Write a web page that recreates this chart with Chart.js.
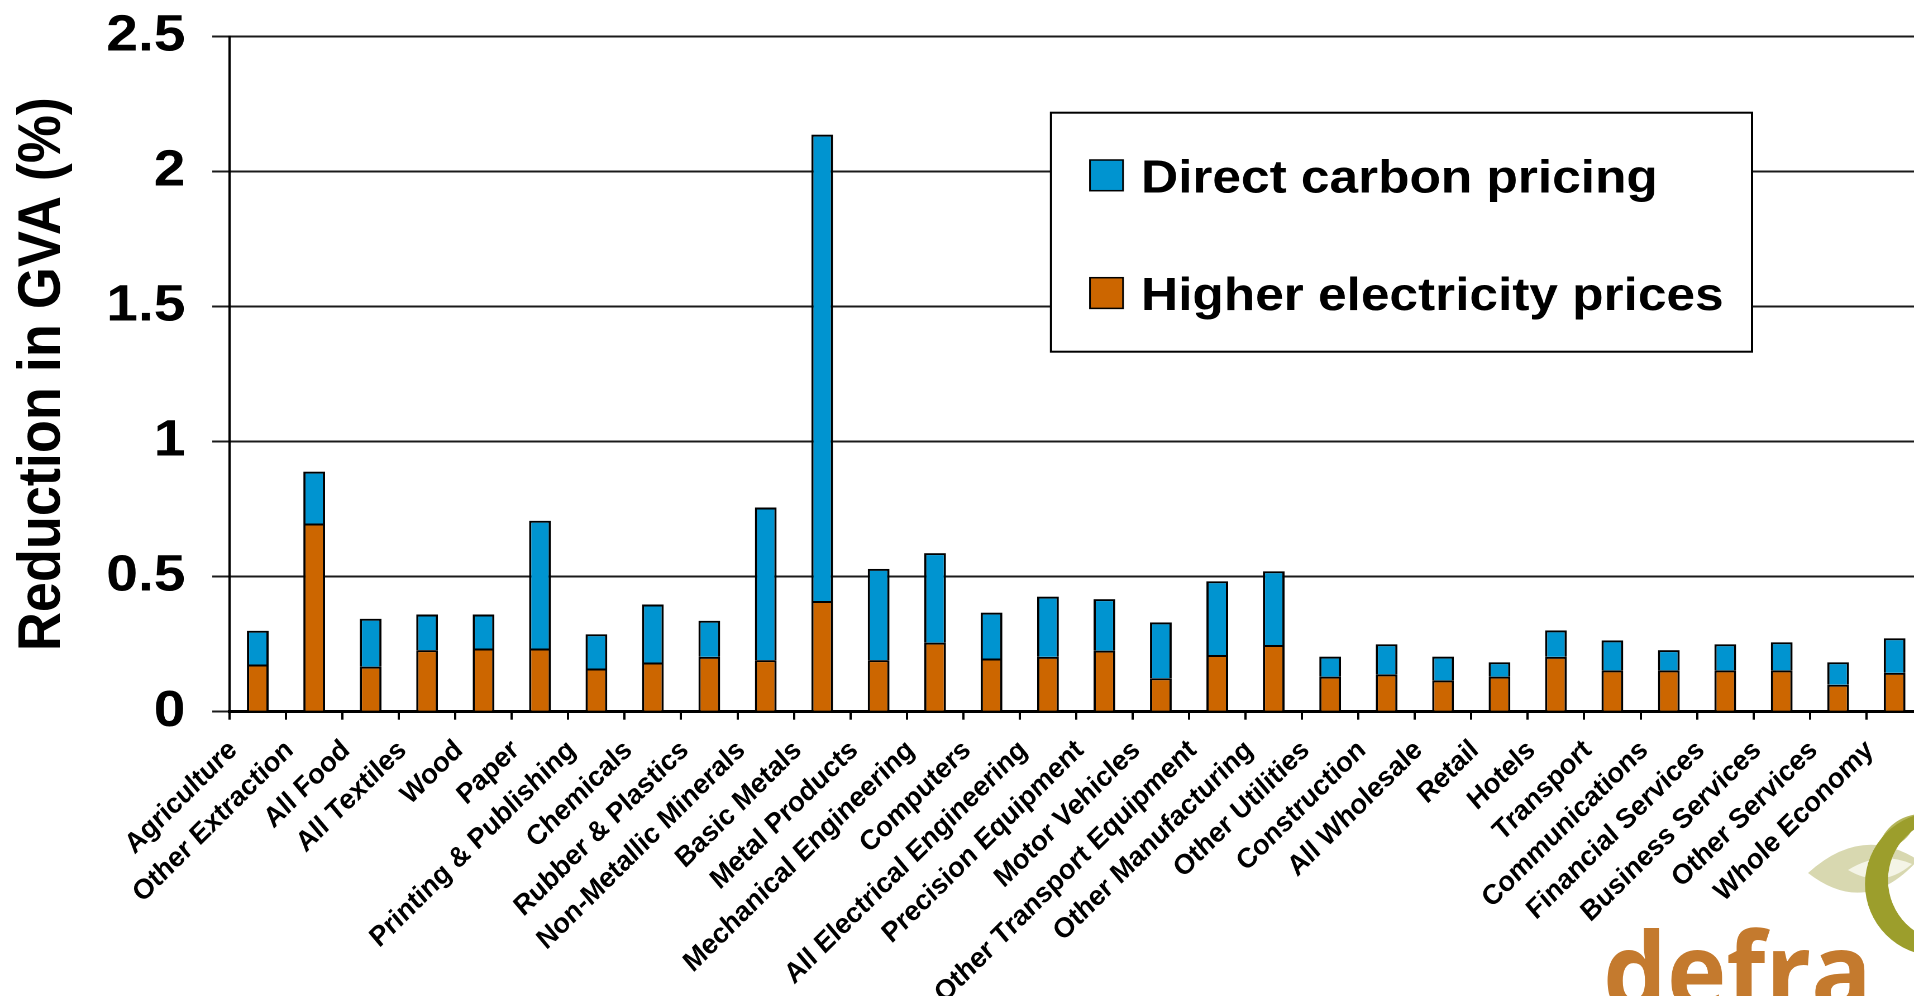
<!DOCTYPE html>
<html>
<head>
<meta charset="utf-8">
<title>Reduction in GVA by sector</title>
<script src="https://cdn.jsdelivr.net/npm/chart.js@4.4.1/dist/chart.umd.min.js"></script>
<style>
  html, body { margin: 0; padding: 0; background: #fff; overflow: hidden; width: 1914px; height: 996px; }
  /* the whole slide is drawn slightly widened, like the original export */
  #wrap { position: absolute; left: 0; top: 0; width: 1740px; height: 996px;
          transform: scaleX(1.117); transform-origin: 0 0; }
  canvas { display: block; }
</style>
</head>
<body>
<div id="wrap"><canvas id="gva" width="1740" height="996"></canvas></div>
<script>
// Sectors along the x axis
const categories = [
  'Agriculture', 'Other Extraction', 'All Food', 'All Textiles', 'Wood', 'Paper',
  'Printing & Publishing', 'Chemicals', 'Rubber & Plastics', 'Non-Metallic Minerals',
  'Basic Metals', 'Metal Products', 'Mechanical Engineering', 'Computers',
  'All Electrical Engineering', 'Precision Equipment', 'Motor Vehicles',
  'Other Transport Equipment', 'Other Manufacturing', 'Other Utilities', 'Construction',
  'All Wholesale', 'Retail', 'Hotels', 'Transport', 'Communications',
  'Financial Services', 'Business Services', 'Other Services', 'Whole Economy'
];

// Reduction in GVA (%) caused by higher electricity prices (lower segment)
const electricityPrices = [
  0.175, 0.697, 0.167, 0.228, 0.234, 0.234, 0.160, 0.182, 0.203, 0.191,
  0.410, 0.191, 0.256, 0.197, 0.203, 0.226, 0.124, 0.210, 0.247, 0.130,
  0.138, 0.116, 0.130, 0.203, 0.153, 0.153, 0.153, 0.153, 0.100, 0.144
];

// Reduction in GVA (%) caused by direct carbon pricing (upper segment)
const directCarbonPricing = [
  0.125, 0.192, 0.177, 0.132, 0.126, 0.473, 0.127, 0.215, 0.134, 0.565,
  1.727, 0.338, 0.331, 0.170, 0.223, 0.191, 0.207, 0.273, 0.273, 0.074,
  0.112, 0.088, 0.053, 0.098, 0.111, 0.075, 0.097, 0.104, 0.083, 0.128
];

const seriesNames = ['Higher electricity prices', 'Direct carbon pricing'];
const seriesColors = ['#CC6600', '#0094D0'];
const yTickLabels = ['0', '0.5', '1', '1.5', '2', '2.5'];
const yAxisTitle = 'Reduction in GVA (%)';

const STRETCH = 1.117;
const FONT = "'Liberation Sans', Arial, Helvetica, sans-serif";

// Boxed legend inside the plot, top series listed first, plus the corner logo
const boxedLegend = {
  id: 'boxedLegend',
  afterDraw(chart) {
    const ctx = chart.ctx;
    const box = { left: 940.9, top: 112.7, right: 1568.5, bottom: 351.7 };
    ctx.save();
    ctx.fillStyle = '#fff';
    ctx.fillRect(box.left, box.top, box.right - box.left, box.bottom - box.top);
    ctx.lineWidth = 2;
    ctx.strokeStyle = '#000';
    ctx.strokeRect(box.left, box.top, box.right - box.left, box.bottom - box.top);

    const items = chart.data.datasets.slice().reverse();
    const rows = [{ swatchTop: 160, baseline: 192.3 }, { swatchTop: 277.7, baseline: 310 }];
    items.forEach((ds, i) => {
      const r = rows[i];
      ctx.fillStyle = ds.backgroundColor;
      ctx.fillRect(975.8, r.swatchTop, 29.6, 30.7);
      ctx.lineWidth = 1.5;
      ctx.strokeStyle = '#000';
      ctx.strokeRect(975.8, r.swatchTop, 29.6, 30.7);
      ctx.fillStyle = '#000';
      ctx.font = 'bold 46px ' + FONT;
      ctx.textAlign = 'left';
      ctx.textBaseline = 'alphabetic';
      ctx.fillText(ds.label, 1021.5, r.baseline);
    });
    ctx.restore();

    // departmental logo in the lower right corner (drawn in page pixels)
    ctx.save();
    ctx.scale(1 / STRETCH, 1);
    // pale leaf
    ctx.fillStyle = '#D8D8B0';
    ctx.beginPath();
    ctx.moveTo(1808, 873);
    ctx.quadraticCurveTo(1862, 824, 1918, 860);
    ctx.quadraticCurveTo(1866, 918, 1808, 873);
    ctx.fill();
    ctx.fillStyle = '#F4F4E6';
    ctx.beginPath();
    ctx.moveTo(1848, 870);
    ctx.quadraticCurveTo(1880, 850, 1912, 864);
    ctx.quadraticCurveTo(1882, 890, 1848, 870);
    ctx.fill();
    // upper olive leaf
    ctx.fillStyle = '#B4B55A';
    ctx.beginPath();
    ctx.moveTo(1876, 852);
    ctx.quadraticCurveTo(1886, 818, 1918, 814);
    ctx.quadraticCurveTo(1912, 846, 1876, 852);
    ctx.fill();
    // olive crescent
    ctx.fillStyle = '#9C9E2C';
    ctx.beginPath();
    ctx.arc(1937, 884, 72, 0, Math.PI * 2);
    ctx.moveTo(1950 + 62, 880);
    ctx.arc(1950, 880, 62, 0, Math.PI * 2);
    ctx.fill('evenodd');
    // wordmark
    ctx.fillStyle = '#C47A2E';
    ctx.font = "bold 108px 'Open Sans', 'Liberation Sans', sans-serif";
    ctx.textAlign = 'left';
    ctx.textBaseline = 'alphabetic';
    const w = ctx.measureText('defra').width;
    ctx.translate(1603, 1010);
    ctx.scale(269 / w, 1);
    ctx.fillText('defra', 0, 0);
    ctx.restore();
  }
};

const barStyle = {
  borderColor: '#000',
  borderWidth: 2,
  barPercentage: 0.385,
  categoryPercentage: 1
};

new Chart(document.getElementById('gva'), {
  type: 'bar',
  data: {
    labels: categories,
    datasets: [
      Object.assign({ label: seriesNames[0], data: electricityPrices, backgroundColor: seriesColors[0] }, barStyle),
      Object.assign({ label: seriesNames[1], data: directCarbonPricing, backgroundColor: seriesColors[1] }, barStyle)
    ]
  },
  options: {
    responsive: false,
    animation: false,
    devicePixelRatio: 2,
    layout: { padding: { left: 0, top: 36.6, right: 18.6, bottom: 0 } },
    plugins: {
      legend: { display: false },
      tooltip: { enabled: false }
    },
    scales: {
      x: {
        stacked: true,
        z: 1,
        grid: { drawOnChartArea: false, drawTicks: true, tickLength: 8, tickColor: '#000', tickWidth: 2, offset: true },
        border: { color: '#000', width: 3 },
        ticks: {
          autoSkip: false,
          minRotation: 48,
          maxRotation: 48,
          padding: 16,
          labelOffset: -22,
          color: '#000',
          font: { family: FONT, size: 26, weight: 'bold', style: 'italic' }
        },
        afterFit(scale) { scale.height = 996 - 711.7; }
      },
      y: {
        stacked: true,
        min: 0,
        max: 2.5,
        ticks: {
          stepSize: 0.5,
          padding: 24,
          color: '#000',
          font: { family: FONT, size: 51, weight: 'bold', lineHeight: 0.45 },
          callback: (value, index) => yTickLabels[index]
        },
        grid: { color: '#1a1a1a', lineWidth: 2, tickLength: 15.5 },
        border: { color: '#000', width: 2 },
        title: {
          display: true,
          text: yAxisTitle,
          color: '#000',
          font: { family: FONT, size: 54, weight: 'bold', lineHeight: 1 },
          padding: { top: 11.5, bottom: 0 }
        },
        afterFit(scale) { scale.width = 205.5; }
      }
    }
  },
  plugins: [boxedLegend]
});
</script>
</body>
</html>
